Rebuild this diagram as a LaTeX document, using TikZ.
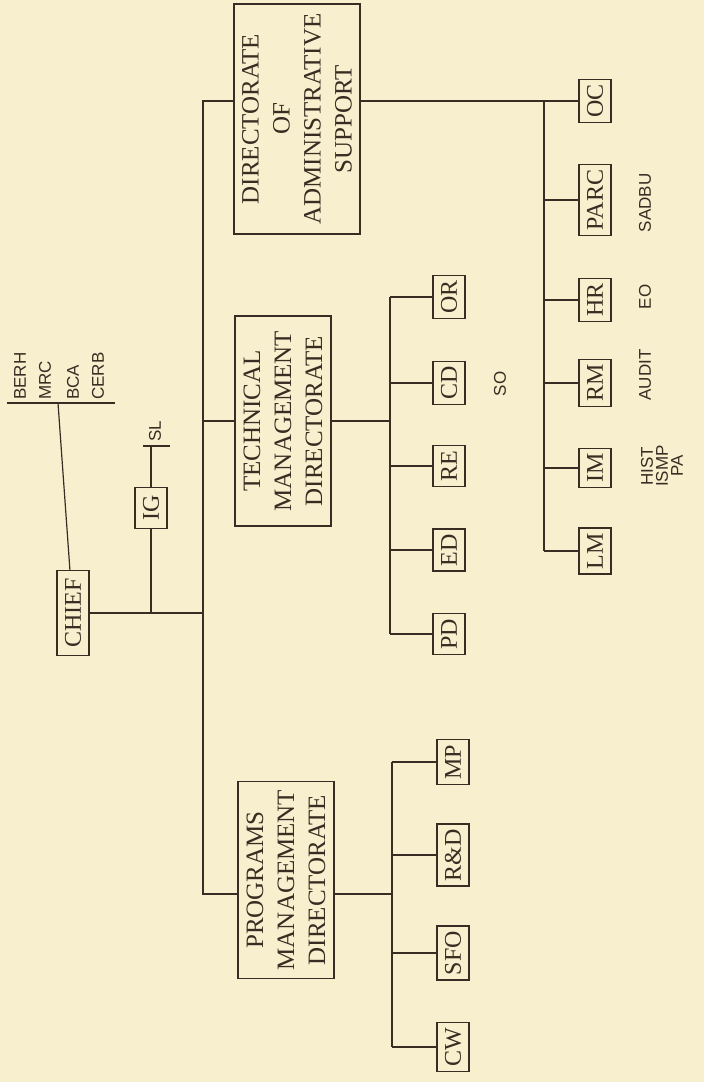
\documentclass[tikz,border=0pt]{standalone}
\usepackage{fontspec}
\setmainfont{Liberation Serif}
\setsansfont{Liberation Sans}
\usepackage{tikz}
\usetikzlibrary{positioning,calc}
\definecolor{paper}{RGB}{247,239,206}
\definecolor{ink}{RGB}{58,44,34}
\tikzset{
  unit/.style={draw=ink, line width=1.1pt, rotate=90, text=ink, inner xsep=5pt,
    minimum height=32pt, font=\fontsize{24}{31}\selectfont},
  directorate/.style={unit, align=center, inner xsep=8pt, font=\fontsize{25}{31}\selectfont},
  office/.style={rotate=90, text=ink, inner sep=0pt,
    font=\sffamily\fontsize{17}{15}\selectfont},
  link/.style={draw=ink, line width=1.2pt}
}

\begin{document}
\begin{tikzpicture}[x=1pt, y=-1pt]
  \fill[paper] (0,0) rectangle (704,1082);
  \node[unit, minimum width=85pt] (chief) at (73,613) {CHIEF};
  \node[unit, minimum width=41pt] (ig) at (151,508) {IG};
  \node[directorate, minimum width=195pt, minimum height=96pt] (pmd) at (286,880) {PROGRAMS\\MANAGEMENT\\DIRECTORATE};
  \node[directorate, minimum width=210pt, minimum height=96pt] (tmd) at (283,421) {TECHNICAL\\MANAGEMENT\\DIRECTORATE};
  \node[directorate, minimum width=230pt, minimum height=126pt] (das) at (297,119) {DIRECTORATE\\OF\\ADMINISTRATIVE\\SUPPORT};
  % branch offices
  \foreach \n/\lbl/\y in {cw/CW/1047, sfo/SFO/953, rd/R\&D/855, mp/MP/762}
    \node[unit] (\n) at (453,\y) {\lbl};
  \foreach \n/\lbl/\y in {pd/PD/634, ed/ED/550, re/RE/466, cd/CD/383, or/OR/297}
    \node[unit] (\n) at (449,\y) {\lbl};
  \foreach \n/\lbl/\y in {lm/LM/551, im/IM/468, rm/RM/383, hr/HR/300, parc/PARC/200, oc/OC/101}
    \node[unit] (\n) at (595,\y) {\lbl};
  % staff offices
  \foreach \n/\lbl/\x in {berh/BERH/20, mrc/MRC/45, bca/BCA/73, cerb/CERB/98}
    \node[office, anchor=west] (\n) at (\x,400) {\lbl};
  \node[office, anchor=west] (slabel) at (155,442) {SL};
  \node[office] (so) at (500,384) {SO};
  \node[office] (sadbu) at (645,203) {SADBU};
  \node[office] (eo) at (645,297) {EO};
  \node[office] (audit) at (645,375) {AUDIT};
  \node[office, align=center] (hist) at (662,466) {HIST\\ISMP\\PA};

  \coordinate (trunktop) at (203,101);
  \coordinate (trunkbot) at (203,894);
  \coordinate (pmdbus) at (392,894);
  \coordinate (tmdbus) at (390,421);
  \coordinate (dasbus) at (544,101);
  \coordinate (board) at (58,403);
  \coordinate (sl) at (151,446);

  \draw[link] (chief) -- (chief -| trunktop);
  \draw[link] (ig) -- (ig |- chief);
  \draw[link] (ig) -- (sl);
  \draw[link] (143,446) -- (170,446);
  \draw[link] (chief) -- (board);
  \draw[link] (7,403) -- (115,403);
  \draw[link] (das.north |- trunktop) -- (trunktop) -- (trunkbot) -- (pmd.north |- trunkbot);
  \draw[link] (tmd) -- (tmd -| trunktop);
  % programs
  \draw[link] (pmd.south |- pmdbus) -- (pmdbus);
  \draw[link] (mp -| pmdbus) -- (cw -| pmdbus);
  \foreach \n in {mp,rd,sfo,cw}
    \draw[link] (\n) -- (\n -| pmdbus);
  % technical
  \draw[link] (tmd) -- (tmdbus);
  \draw[link] (or -| tmdbus) -- (pd -| tmdbus);
  \foreach \n in {or,cd,re,ed,pd}
    \draw[link] (\n) -- (\n -| tmdbus);
  % administrative support
  \draw[link] (oc) -- (oc -| das.south);
  \draw[link] (dasbus) -- (lm -| dasbus);
  \foreach \n in {parc,hr,rm,im,lm}
    \draw[link] (\n) -- (\n -| dasbus);
\end{tikzpicture}
\end{document}
